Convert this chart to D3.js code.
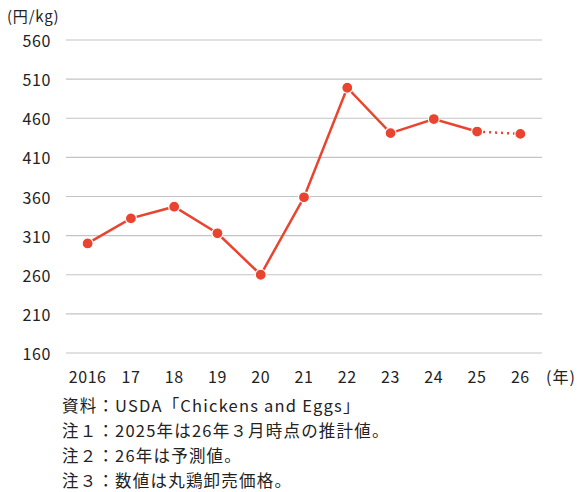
<!DOCTYPE html>
<html>
<head>
<meta charset="utf-8">
<script src="https://cdn.jsdelivr.net/npm/d3@7"></script>
<style>
  body { margin: 0; background: #fff; }
  text { font-family: "Noto Sans CJK JP", sans-serif; fill: #222; }
</style>
</head>
<body>
<svg id="chart" width="577" height="492"></svg>
<script>
// data
var years = ["2016", "17", "18", "19", "20", "21", "22", "23", "24", "25", "26"];
var prices = [300, 332, 347, 313, 260, 359, 499, 441, 459, 443, 440];
var yTicks = [160, 210, 260, 310, 360, 410, 460, 510, 560];
var notes = [
  "資料：USDA「Chickens and Eggs」",
  "注１：2025年は26年３月時点の推計値。",
  "注２：26年は予測値。",
  "注３：数値は丸鶏卸売価格。"
];

var svg = d3.select("#chart"),
    width = +svg.attr("width"),
    height = +svg.attr("height");

var plotLeft = 66, plotRight = 542, plotTop = 40, plotBottom = 353;
var red = "#e9442f";

var x = d3.scalePoint()
  .domain(years)
  .range([plotLeft, plotRight])
  .padding(0.5);

var y = d3.scaleLinear()
  .domain([160, 560])
  .range([plotBottom, plotTop]);

// grid
svg.append("g")
  .selectAll("line")
  .data(yTicks)
  .enter()
  .append("line")
    .attr("x1", plotLeft)
    .attr("x2", plotRight)
    .attr("y1", function(d){ return y(d) })
    .attr("y2", function(d){ return y(d) })
    .attr("stroke", "#c4c4c4")
    .attr("stroke-width", 1.2);

// y labels
svg.append("g")
  .selectAll("text")
  .data(yTicks)
  .enter()
  .append("text")
    .attr("x", 51)
    .attr("y", function(d){ return y(d) })
    .attr("text-anchor", "end")
    .attr("dominant-baseline", "central")
    .style("font-size", "16px")
    .style("letter-spacing", "0.6px")
    .text(function(d){ return d });

svg.append("text")
  .attr("x", 7)
  .attr("y", 15)
  .attr("dominant-baseline", "central")
  .style("font-size", "15px")
  .style("letter-spacing", "0.8px")
  .text("(円/kg)");

// x labels
svg.append("g")
  .selectAll("text")
  .data(years)
  .enter()
  .append("text")
    .attr("x", function(d){ return x(d) })
    .attr("y", 376)
    .attr("text-anchor", "middle")
    .attr("dominant-baseline", "central")
    .style("font-size", "16px")
    .style("letter-spacing", "0.6px")
    .text(function(d){ return d });

svg.append("text")
  .attr("x", 546)
  .attr("y", 376)
  .attr("dominant-baseline", "central")
  .style("font-size", "16px")
  .style("letter-spacing", "1px")
  .text("(年)");

// lines
var pts = years.map(function(d, i){ return [x(d), y(prices[i])] });
var line = d3.line();

svg.append("path")
  .attr("d", line(pts.slice(0, 10)))
  .attr("fill", "none")
  .attr("stroke", red)
  .attr("stroke-width", 2.5);

svg.append("path")
  .attr("d", line(pts.slice(9)))
  .attr("fill", "none")
  .attr("stroke", red)
  .attr("stroke-width", 2.5)
  .style("stroke-dasharray", "2,4");

svg.append("g")
  .selectAll("circle")
  .data(pts)
  .enter()
  .append("circle")
    .attr("cx", function(d){ return d[0] })
    .attr("cy", function(d){ return d[1] })
    .attr("r", 5.5)
    .attr("fill", red)
    .attr("stroke", "#fff")
    .attr("stroke-width", 1.2);

// notes
svg.append("g")
  .selectAll("text")
  .data(notes)
  .enter()
  .append("text")
    .attr("x", 62)
    .attr("y", function(d, i){ return 405 + i * 25 })
    .attr("dominant-baseline", "central")
    .style("font-size", "16.5px")
    .style("letter-spacing", "1.2px")
    .text(function(d){ return d });
</script>
</body>
</html>
